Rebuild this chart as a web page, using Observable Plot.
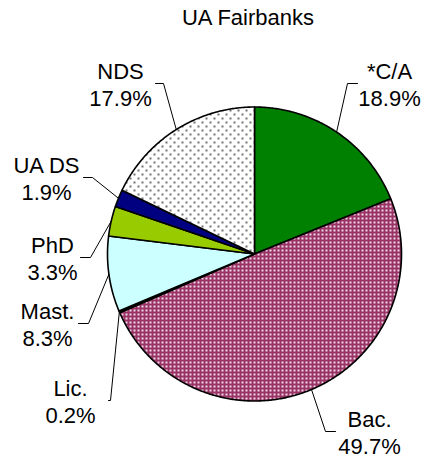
<!DOCTYPE html>
<html>
<head>
<meta charset="utf-8">
<script src="https://cdn.jsdelivr.net/npm/d3@7"></script>
<script src="https://cdn.jsdelivr.net/npm/@observablehq/plot@0.6"></script>
<style>
  html, body { margin: 0; padding: 0; background: #fff; }
  #chart svg { display: block; }
</style>
</head>
<body>
<div id="chart"></div>
<script>
// ---- data ----
const title = "UA Fairbanks";
const categories = ["*C/A", "Bac.", "Lic.", "Mast.", "PhD", "UA DS", "NDS"];
const shares = [18.9, 49.7, 0.2, 8.3, 3.3, 1.9, 17.9];
const sliceFills = ["#008000", "url(#pat-bac)", "#000000", "#CCFFFF", "#99CC00", "#000080", "url(#pat-nds)"];

// ---- layout (label placement chosen to match the reference) ----
const W = 422, H = 459;
const CX = 254, CY = 253.5, R = 147;
const labelX = [389, 369, 70, 47, 52, 46, 120];       // text centre
const labelY = [83, 431, 400, 323, 257, 177, 83];     // label block centre / elbow
const elbowNear = [357, 335, 108, 78, 80, 83, 155];   // leader start next to text
const elbowFar = [347, 325, 110, 88, 90, 92, 163];    // elbow

const total = d3.sum(shares);
let acc = 0;
const slices = categories.map((name, i) => {
  const a0 = acc / total * 2 * Math.PI;
  acc += shares[i];
  const a1 = acc / total * 2 * Math.PI;
  return {name, value: shares[i], a0, a1, mid: (a0 + a1) / 2, fill: sliceFills[i], i};
});
const pt = (a, r) => [CX + r * Math.sin(a), CY - r * Math.cos(a)];

function polygon(s) {
  const pts = [{name: s.name, x: CX, y: CY}];
  const n = Math.max(2, Math.ceil((s.a1 - s.a0) / (Math.PI / 360)));
  for (let k = 0; k <= n; k++) {
    const a = s.a0 + (s.a1 - s.a0) * k / n;
    const [x, y] = pt(a, R);
    pts.push({name: s.name, x, y});
  }
  return pts;
}

const leaders = slices.flatMap(s => {
  const [ex, ey] = pt(s.mid, R);
  return [
    {name: s.name, x: elbowNear[s.i], y: labelY[s.i]},
    {name: s.name, x: elbowFar[s.i], y: labelY[s.i]},
    {name: s.name, x: ex, y: ey}
  ];
});

const labels = slices.map(s => ({
  text: s.name + "\n" + s.value.toFixed(1) + "%",
  x: labelX[s.i], y: labelY[s.i]
}));

const font = "'Liberation Sans', Arial, Helvetica, sans-serif";

const svg = Plot.plot({
  width: W, height: H,
  margin: 0,
  style: {fontFamily: font, background: "#fff", color: "#000"},
  x: {domain: [0, W], range: [0, W], axis: null},
  y: {domain: [0, H], range: [0, H], axis: null},
  marks: [
    ...slices.map(s => Plot.line(polygon(s), {
      x: "x", y: "y", curve: "linear-closed",
      fill: s.fill, stroke: "#000", strokeWidth: 1.6, strokeLinejoin: "round"
    })),
    Plot.line(leaders, {x: "x", y: "y", z: "name", stroke: "#000", strokeWidth: 1}),
    Plot.text(labels, {
      x: "x", y: "y", text: "text", fontSize: 22, lineHeight: 27 / 22,
      lineAnchor: "middle", textAnchor: "middle", fill: "#000"
    }),
    Plot.text([title], {
      x: () => 247.5, y: () => 17, text: d => d, fontSize: 22,
      lineAnchor: "middle", textAnchor: "middle", fill: "#000"
    })
  ]
});

d3.select(svg).insert("defs", ":first-child").html(`
  <pattern id="pat-bac" patternUnits="userSpaceOnUse" width="4" height="4">
    <rect width="4" height="4" fill="#993366"/>
    <rect x="1" y="1" width="2" height="2" fill="#f0d8e6"/>
  </pattern>
  <pattern id="pat-nds" patternUnits="userSpaceOnUse" width="8" height="8">
    <rect width="8" height="8" fill="#ffffff"/>
    <rect x="1" y="1" width="2" height="2" fill="#707070"/>
    <rect x="5" y="5" width="2" height="2" fill="#707070"/>
  </pattern>
`);

document.getElementById("chart").appendChild(svg);
</script>
</body>
</html>
